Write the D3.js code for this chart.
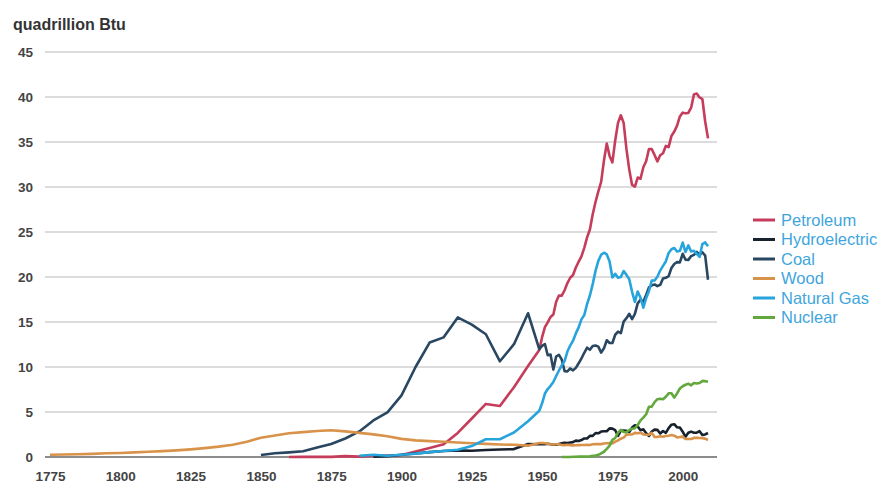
<!DOCTYPE html>
<html><head><meta charset="utf-8">
<script src="https://cdn.jsdelivr.net/npm/d3@7"></script>
<style>html,body{margin:0;padding:0;background:#fff;}svg{display:block;}</style>
</head><body><svg id="c" width="880" height="485"></svg>
<script>
// ---- data (quadrillion Btu) ----
const earlyYears = [1775,1780,1785,1790,1795,1800,1805,1810,1815,1820,1825,1830,1835,1840,1845,1850,1855,1860,1865,1870,1875,1880,1885,1890,1895,1900,1905,1910,1915,1920,1925,1930,1935,1940,1945];
const annualYears = d3.range(1949, 2010);

const woodEarly = [0.249,0.280,0.310,0.350,0.410,0.450,0.510,0.580,0.650,0.740,0.850,0.990,1.150,1.360,1.700,2.138,2.389,2.641,2.767,2.893,2.975,2.851,2.683,2.515,2.306,2.015,1.843,1.765,1.688,1.610,1.533,1.455,1.397,1.358,1.261];
const coalEarly = [null,null,null,null,null,null,null,null,null,null,null,null,null,null,null,0.219,0.421,0.518,0.632,1.048,1.440,2.054,2.840,4.062,4.950,6.841,10.001,12.714,13.294,15.504,14.706,13.639,10.634,12.535,15.972];
const petroleumEarly = [null,null,null,null,null,null,null,null,null,null,null,null,null,null,null,null,null,0.003,0.010,0.011,0.011,0.096,0.040,0.156,0.168,0.229,0.610,1.007,1.418,2.676,4.280,5.897,5.675,7.760,10.110];
const gasEarly = [null,null,null,null,null,null,null,null,null,null,null,null,null,null,null,null,null,null,null,null,null,null,0.143,0.257,0.147,0.252,0.372,0.540,0.673,0.813,1.212,1.969,1.974,2.726,3.973];
const hydroEarly = [null,null,null,null,null,null,null,null,null,null,null,null,null,null,null,null,null,null,null,null,null,null,null,0.022,0.085,0.250,0.386,0.539,0.659,0.738,0.701,0.785,0.831,0.880,1.442];
const nuclearEarly = earlyYears.map(() => null);

const petroleumAnnual = [11.883,13.315,14.428,14.956,15.556,15.839,17.255,17.937,17.932,18.527,19.323,19.919,20.216,21.049,21.701,22.301,23.246,24.401,25.284,26.979,28.338,29.521,30.561,32.947,34.840,33.455,32.731,35.175,37.122,37.965,37.123,34.202,31.931,30.232,30.054,31.051,30.922,32.196,32.865,34.222,34.211,33.552,32.845,33.527,33.744,34.561,34.438,35.675,36.159,36.816,37.838,38.262,38.186,38.224,38.811,40.292,40.388,39.955,39.774,37.280,35.403];
const coalAnnual = [11.981,12.347,12.553,11.306,11.373,9.715,11.167,11.350,10.821,9.533,9.518,9.838,9.623,9.906,10.413,10.964,11.581,12.143,11.914,12.331,12.382,12.265,11.598,12.077,12.971,12.663,12.663,13.584,13.922,13.766,15.040,15.423,15.908,15.322,15.894,17.071,17.478,17.260,18.008,18.846,19.070,19.173,18.992,19.122,19.835,19.909,20.089,21.002,21.445,21.656,21.623,22.580,21.914,21.904,22.321,22.466,22.797,22.447,22.749,22.385,19.692];
const gasAnnual = [5.145,5.968,7.049,7.550,7.907,8.330,8.998,9.614,10.191,10.663,11.717,12.385,12.926,13.731,14.403,15.288,15.769,17.000,17.944,19.210,20.678,21.795,22.469,22.698,22.512,21.732,19.948,20.345,19.931,20.000,20.666,20.235,19.747,18.356,17.221,18.394,17.703,16.591,17.640,18.448,19.602,19.603,20.033,20.714,21.229,21.728,22.671,23.085,23.223,22.830,22.909,23.824,22.773,23.510,22.831,22.909,22.561,22.224,23.663,23.843,23.416];
const hydroAnnual = [1.425,1.415,1.424,1.466,1.413,1.360,1.360,1.435,1.516,1.592,1.548,1.608,1.656,1.816,1.771,1.886,2.059,2.062,2.347,2.349,2.648,2.634,2.824,2.864,2.861,3.177,3.155,2.976,2.333,2.937,2.931,2.900,2.758,3.266,3.527,3.386,2.970,3.071,2.635,2.334,2.837,3.046,3.016,2.617,2.892,2.683,3.205,3.590,3.640,3.297,3.268,2.811,2.242,2.689,2.825,2.690,2.703,2.869,2.446,2.511,2.669];
const woodAnnual = [1.549,1.562,1.535,1.474,1.419,1.394,1.424,1.416,1.334,1.323,1.353,1.320,1.295,1.300,1.323,1.337,1.335,1.369,1.340,1.419,1.440,1.431,1.432,1.503,1.527,1.538,1.497,1.711,1.837,2.036,2.152,2.476,2.496,2.510,2.684,2.645,2.705,2.509,2.474,2.467,2.679,2.216,2.214,2.313,2.260,2.324,2.370,2.437,2.371,2.184,2.214,2.262,2.006,1.995,2.002,2.121,2.136,2.109,2.098,2.044,1.891];
const nuclearAnnual = [null,null,null,null,null,null,null,null,0.000,0.002,0.002,0.006,0.020,0.026,0.038,0.040,0.043,0.064,0.088,0.142,0.154,0.239,0.413,0.584,0.910,1.272,1.900,2.111,2.702,3.024,2.776,2.739,3.008,3.131,3.203,3.553,4.076,4.380,4.754,5.587,5.602,6.104,6.422,6.479,6.410,6.694,7.075,7.087,6.597,7.068,7.610,7.862,8.029,8.145,7.959,8.222,8.160,8.214,8.455,8.427,8.356];

const seriesNames = ["Petroleum","Hydroelectric","Coal","Wood","Natural Gas","Nuclear"];
const seriesColors = ["#c53d5a","#18222e","#2a4762","#d8924a","#27a4dc","#63a83c"];
const xTicks = [1775,1800,1825,1850,1875,1900,1925,1950,1975,2000];
const yTicks = [0,5,10,15,20,25,30,35,40,45];
const yTitle = "quadrillion Btu";

// ---- build series ----
const years = earlyYears.concat(annualYears);
const seriesValues = [
  petroleumEarly.concat(petroleumAnnual),
  hydroEarly.concat(hydroAnnual),
  coalEarly.concat(coalAnnual),
  woodEarly.concat(woodAnnual),
  gasEarly.concat(gasAnnual),
  nuclearEarly.concat(nuclearAnnual)
];

const svg = d3.select("#c");
const x = d3.scaleLinear().domain([1775, 2009]).range([50, 708]);
const y = d3.scaleLinear().domain([0, 45]).range([457, 52]);
const gridX0 = 45, gridX1 = 717;
const FONT = "Liberation Sans, Arial, sans-serif";

// gridlines
svg.append("g").selectAll("line").data(yTicks).join("line")
  .attr("x1", gridX0).attr("x2", gridX1)
  .attr("y1", d => y(d)).attr("y2", d => y(d))
  .attr("stroke", d => d === 0 ? "#8c8c8c" : "#dcdcdc")
  .attr("stroke-width", 2);

// y axis labels
const yAxis = d3.axisLeft(y).tickValues(yTicks).tickSize(0).tickPadding(0);
const gy = svg.append("g").attr("transform", "translate(33,0)").call(yAxis);
gy.select(".domain").remove();
gy.selectAll("text").attr("font-family", FONT)
  .attr("font-size", 13.5).attr("fill", "#444").attr("font-weight", "bold");

// x axis labels
const xAxis = d3.axisBottom(x).tickValues(xTicks).tickFormat(d3.format("d")).tickSize(0).tickPadding(0);
const gx = svg.append("g").attr("transform", "translate(0,471)").call(xAxis);
gx.select(".domain").remove();
gx.selectAll("text").attr("font-family", FONT)
  .attr("font-size", 13.5).attr("fill", "#444").attr("font-weight", "bold");

// title
svg.append("text").attr("x", 13).attr("y", 30).text(yTitle)
  .attr("font-family", FONT)
  .attr("font-size", 16).attr("font-weight", "bold").attr("fill", "#333");

// lines
const line = d3.line().defined(d => d[1] !== null).x(d => x(d[0])).y(d => y(d[1]));
svg.append("g").selectAll("path").data(seriesValues).join("path")
  .attr("d", vals => line(years.map((yr, i) => [yr, vals[i]])))
  .attr("fill", "none")
  .attr("stroke", (d, i) => seriesColors[i])
  .attr("stroke-width", 2.6)
  .attr("stroke-linejoin", "round");

// legend
const lg = svg.append("g").attr("transform", "translate(753,220)");
const items = lg.selectAll("g").data(seriesNames).join("g")
  .attr("transform", (d, i) => `translate(0,${i * 19.5})`);
items.append("line").attr("x1", 0).attr("x2", 22).attr("y1", 0).attr("y2", 0)
  .attr("stroke", (d, i) => seriesColors[i]).attr("stroke-width", 3);
items.append("text").attr("x", 28).attr("y", 0).attr("dy", "0.35em").text(d => d)
  .attr("font-family", FONT)
  .attr("font-size", 16.5).attr("fill", "#3fa6dc");
</script></body></html>
